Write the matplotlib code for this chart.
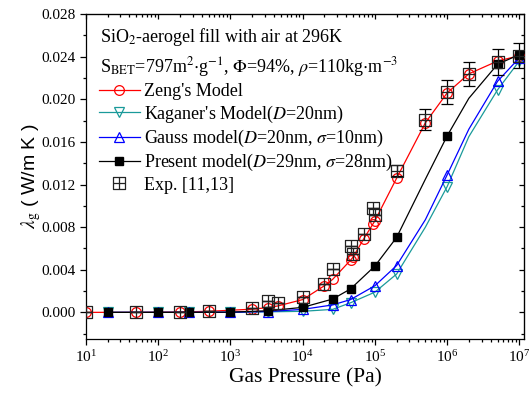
import numpy as np
import matplotlib
matplotlib.use('Agg')
import matplotlib.pyplot as plt
from matplotlib.path import Path

plt.rcParams['font.family'] = ['Liberation Serif', 'DejaVu Serif']
plt.rcParams['mathtext.fontset'] = 'stix'

# experimental data (also the pressures of the Zeng model points)
p_exp = [10, 50, 200, 500, 2000, 3300, 4500, 1e4, 2e4, 2.6e4, 4.6e4, 5e4,
         7e4, 9.4e4, 1e5, 2e5, 5e5, 1e6, 2e6, 5e6, 1e7]
k_exp = [0.0, 0.0, 0.00005, 0.0001, 0.00038, 0.0011, 0.00085, 0.0014, 0.0027,
         0.0041, 0.0062, 0.0055, 0.0074, 0.0098, 0.0091, 0.0133, 0.0181,
         0.0207, 0.0224, 0.0235, 0.0241]
err_exp = [0, 0, 0, 0, 0, 0, 0, 0, 0, 0, 0, 0, 0, 0, 0, 0.0005, 0.001,
           0.0011, 0.0011, 0.0012, 0.0012]
k_zeng = [0.0, 0.00001, 0.00004, 0.0001, 0.0003, 0.00045, 0.0006, 0.0012,
          0.0025, 0.0031, 0.0049, 0.0052, 0.0069, 0.0083, 0.0086, 0.0126,
          0.0178, 0.0206, 0.0224, 0.0236, 0.0241]

# model curves
p_mod = [20, 100, 270, 1000, 3300, 1e4, 2.6e4, 4.6e4, 1e5, 2e5, 5e5, 1e6,
         2e6, 5e6, 1e7]
k_present = [0.0, 0.0, 0.0, 0.00002, 0.00015, 0.00047, 0.00125, 0.0022,
             0.00435, 0.00704, 0.0125, 0.01656, 0.0201, 0.0233, 0.0242]
k_gauss = [0.0, 0.0, 0.0, 0.00001, 0.00008, 0.00028, 0.0007, 0.0012, 0.0025,
           0.0044, 0.0087, 0.0129, 0.0172, 0.0217, 0.0239]
k_kaganer = [0.0, 0.0, 0.0, 0.00001, 0.00005, 0.0001, 0.00028, 0.0009,
             0.0019, 0.0036, 0.0080, 0.0118, 0.0165, 0.0209, 0.0236]
mark_idx = [0, 1, 2, 3, 4, 5, 6, 7, 8, 9, 11, 13, 14]

# square-with-cross marker
boxplus = Path([(-1, -1), (1, -1), (1, 1), (-1, 1), (-1, -1),
                (0, -1), (0, 1), (-1, 0), (1, 0)],
               [Path.MOVETO, Path.LINETO, Path.LINETO, Path.LINETO,
                Path.CLOSEPOLY, Path.MOVETO, Path.LINETO, Path.MOVETO,
                Path.LINETO])

fig = plt.figure(figsize=(5.29, 3.94), dpi=100)
ax = fig.add_axes([0.1626, 0.1396, 0.8284, 0.8244])

ax.plot(p_exp, k_zeng, '-', color='red', lw=0.9, marker='o', ms=7,
        mfc='none', mec='red', mew=0.9, label="Zeng's Model", zorder=3)
ax.plot(p_mod, k_kaganer, '-', color='#1a9a9a', lw=0.9, marker='v', ms=7,
        mfc='none', mec='#1a9a9a', mew=0.9, markevery=mark_idx,
        label="Kaganer's Model($D$=20nm)", zorder=3)
ax.plot(p_mod, k_gauss, '-', color='blue', lw=0.9, marker='^', ms=7,
        mfc='none', mec='blue', mew=0.9, markevery=mark_idx,
        label="Gauss model($D$=20nm, $\\sigma$=10nm)", zorder=3)
ax.plot(p_mod, k_present, '-', color='black', lw=0.9, marker='s', ms=6,
        mfc='black', mec='black', markevery=mark_idx,
        label="Present model($D$=29nm, $\\sigma$=28nm)", zorder=4)
ax.errorbar(p_exp, k_exp, yerr=err_exp, fmt='none', ecolor='black',
            elinewidth=0.9, capsize=4, capthick=0.9, zorder=5)
ax.plot(p_exp, k_exp, ls='none', marker=boxplus, ms=8, mfc='none',
        mec='#222222', mew=0.9, label='Exp. [11,13]', zorder=5)

ax.set_xscale('log')
ax.set_xlim(10, 1.17e7)
ax.set_ylim(-0.0025, 0.028)
ax.set_xticks([1e1, 1e2, 1e3, 1e4, 1e5, 1e6, 1e7])
ax.set_yticks(np.arange(0, 0.0281, 0.004))
ax.set_yticks(np.arange(-0.002, 0.028, 0.002), minor=True)
ax.yaxis.set_major_formatter(matplotlib.ticker.FormatStrFormatter('%.3f'))

ax.tick_params(which='both', labelsize=11, width=0.9, direction='out',
               top=False, right=False)
ax.tick_params(which='major', length=4.5, pad=3)
ax.tick_params(which='minor', length=2.5)

# top and right ticks point inwards
ax2 = ax.secondary_xaxis('top')
ax2.tick_params(which='both', direction='in', labeltop=False, width=0.9)
ax2.tick_params(which='major', length=3.5)
ax2.tick_params(which='minor', length=2)
ax2.set_xticks([1e1, 1e2, 1e3, 1e4, 1e5, 1e6, 1e7])
ax2.set_xticklabels([])
ax3 = ax.secondary_yaxis('right')
ax3.tick_params(which='both', direction='in', labelright=False, width=0.9)
ax3.tick_params(which='major', length=3.5)
ax3.tick_params(which='minor', length=2)
ax3.set_yticks(np.arange(0, 0.0281, 0.004))
ax3.set_yticks(np.arange(-0.002, 0.028, 0.002), minor=True)
ax3.set_yticklabels([])
for s in ax.spines.values():
    s.set_linewidth(0.9)

ax.set_xlabel('Gas Pressure (Pa)', fontsize=15.5, labelpad=2)
ax.set_ylabel('$\\lambda_{\\rm g}$ ( W/m K )', fontsize=14,
              family='Liberation Sans', labelpad=-1)

ax.text(0.032, 0.965, 'SiO$_2$-aerogel fill with air at 296K', fontsize=13,
        transform=ax.transAxes, va='top', ha='left')
ax.text(0.032, 0.875, 'S$_{\\rm BET}$=797m$^2$$\\cdot$g$^{-1}$, $\\Phi$=94%, '
        '$\\rho$=110kg$\\cdot$m$^{-3}$', fontsize=13, transform=ax.transAxes,
        va='top', ha='left')

leg = ax.legend(loc='upper left', bbox_to_anchor=(0.0, 0.826), frameon=False,
                fontsize=13, handlelength=2.3, handletextpad=0.2,
                labelspacing=0.18, borderaxespad=0.3)

fig.savefig('out.png', dpi=100)
